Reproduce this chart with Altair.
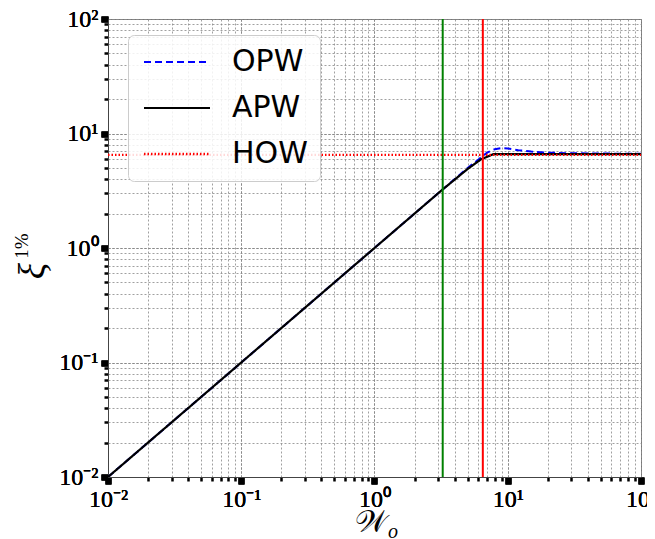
import altair as alt
import pandas as pd

# ---- data ----
opw_x = [0.01, 1, 5, 6, 7, 8, 9, 10, 12, 15, 20, 30, 50, 100]
opw_y = [0.01, 1, 5, 5.9, 6.8, 7.3, 7.45, 7.4, 7.15, 6.95, 6.8, 6.72, 6.68, 6.65]
apw_x = [0.01, 1, 3.2, 5, 6.3, 7.8, 100]
apw_y = [0.01, 1, 3.2, 4.9, 5.95, 6.6, 6.6]
how_x = [0.01, 100]
how_y = [6.5, 6.5]
green_x = [3.25]
red_x = [6.5]

series_names = ["OPW", "APW", "HOW"]
series_colors = ["blue", "black", "red"]
series_dash = [[7, 4], [1, 0], [1.5, 2]]
series_width = [2, 2.4, 1.2]

major_vals = [0.01, 0.1, 1, 10, 100]
major_labels = ["10⁻²", "10⁻¹", "10⁰", "10¹", "10²"]
minor_vals = [m * d for d in [0.01, 0.1, 1, 10] for m in range(2, 10)]

rows = []
for name, xs, ys in [("OPW", opw_x, opw_y), ("APW", apw_x, apw_y), ("HOW", how_x, how_y)]:
    for i, (a, b) in enumerate(zip(xs, ys)):
        rows.append({"series": name, "x": a, "y": b, "order": i})
df = pd.DataFrame(rows)

label_expr = " : ".join(
    f"datum.value == {v} ? '{l}'" for v, l in zip(major_vals, major_labels)
) + " : ''"

W, H = 533, 458
xscale = alt.Scale(type="log", domain=[0.01, 100], nice=False)
yscale = alt.Scale(type="log", domain=[0.01, 100], nice=False)

grid_common = dict(grid=True, gridDash=[2, 2], gridColor="#888888", gridWidth=0.8,
                   domain=True, domainColor="#444444", domainWidth=1, tickColor="black")

x_major = alt.Axis(orient="bottom", values=major_vals, labelExpr=label_expr, title=None,
                   tickSize=7, tickWidth=6, labelFont="Liberation Serif", labelFontSize=24,
                   labelColor="black", labelPadding=3, labelFlush=False, labelOverlap=False,
                   **grid_common)
y_major = alt.Axis(orient="left", values=major_vals, labelExpr=label_expr, title=None,
                   tickSize=7, tickWidth=6, labelFont="Liberation Serif", labelFontSize=24,
                   labelColor="black", labelPadding=3, labelFlush=False, labelOverlap=False,
                   **grid_common)
x_minor = alt.Axis(orient="bottom", values=minor_vals, labels=False, title=None,
                   tickSize=4, tickWidth=2.5, **grid_common)
y_minor = alt.Axis(orient="left", values=minor_vals, labels=False, title=None,
                   tickSize=4, tickWidth=2.5, **grid_common)

legend = alt.Legend(title=None, orient="none", legendX=20, legendY=16,
                    symbolType="M-3,0H3", symbolSize=484, symbolOffset=22,
                    labelFont="DejaVu Sans", labelFontSize=30, labelColor="black",
                    labelOffset=40, rowPadding=16, padding=12,
                    fillColor="rgba(255,255,255,0.85)", strokeColor="#cccccc",
                    cornerRadius=6, labelLimit=200)

color_enc = alt.Color("series:N", scale=alt.Scale(domain=series_names, range=series_colors),
                      legend=legend)
dash_enc = alt.StrokeDash("series:N", scale=alt.Scale(domain=series_names, range=series_dash),
                          legend=legend)
width_enc = alt.StrokeWidth("series:N", scale=alt.Scale(domain=series_names, range=series_width),
                            legend=legend)


def series_layer(name):
    return alt.Chart(df).transform_filter(alt.datum.series == name).mark_line(clip=True).encode(
        x=alt.X("x:Q", scale=xscale, axis=x_major),
        y=alt.Y("y:Q", scale=yscale, axis=y_major),
        order="order:Q",
        color=color_enc,
        strokeDash=dash_enc,
        strokeWidth=width_enc,
    )


minor = alt.Chart(df).mark_point(opacity=0).encode(
    x=alt.X("x:Q", scale=xscale, axis=x_minor),
    y=alt.Y("y:Q", scale=yscale, axis=y_minor),
)

green = alt.Chart(pd.DataFrame({"x": green_x})).mark_rule(color="green", strokeWidth=2).encode(
    x=alt.X("x:Q", scale=xscale, axis=None))
red = alt.Chart(pd.DataFrame({"x": red_x})).mark_rule(color="red", strokeWidth=2).encode(
    x=alt.X("x:Q", scale=xscale, axis=None))

xi = alt.Chart(pd.DataFrame({"t": ["ξ"]})).mark_text(
    font="Liberation Serif", fontSize=38, angle=270, align="center", baseline="middle",
    fontStyle="italic", color="black"
).encode(text="t:N", x=alt.value(-74), y=alt.value(252))
xi_sup = alt.Chart(pd.DataFrame({"t": ["1%"]})).mark_text(
    font="Liberation Serif", fontSize=19, angle=270, align="center", baseline="middle",
    color="black"
).encode(text="t:N", x=alt.value(-86), y=alt.value(227))

wo = alt.Chart(pd.DataFrame({"t": ["𝒲"]})).mark_text(
    font="DejaVu Serif", fontSize=31, align="center", baseline="middle", color="black"
).encode(text="t:N", x=alt.value(263), y=alt.value(504))
wo_sub = alt.Chart(pd.DataFrame({"t": ["o"]})).mark_text(
    font="Liberation Serif", fontSize=20, fontStyle="italic", align="center", baseline="middle",
    color="black"
).encode(text="t:N", x=alt.value(285), y=alt.value(513))

chart = alt.layer(
    minor, series_layer("OPW"), series_layer("APW"), series_layer("HOW"),
    green, red, xi, xi_sup, wo, wo_sub
).resolve_axis(
    x="independent", y="independent"
).properties(
    width=W, height=H,
    autosize=alt.AutoSizeParams(type="none"),
    padding={"left": 100, "top": 11, "right": 6, "bottom": 62},
).configure_view(stroke="#777777", strokeWidth=1)

chart.save("out.html", embed_options={"renderer": "svg", "actions": False})
